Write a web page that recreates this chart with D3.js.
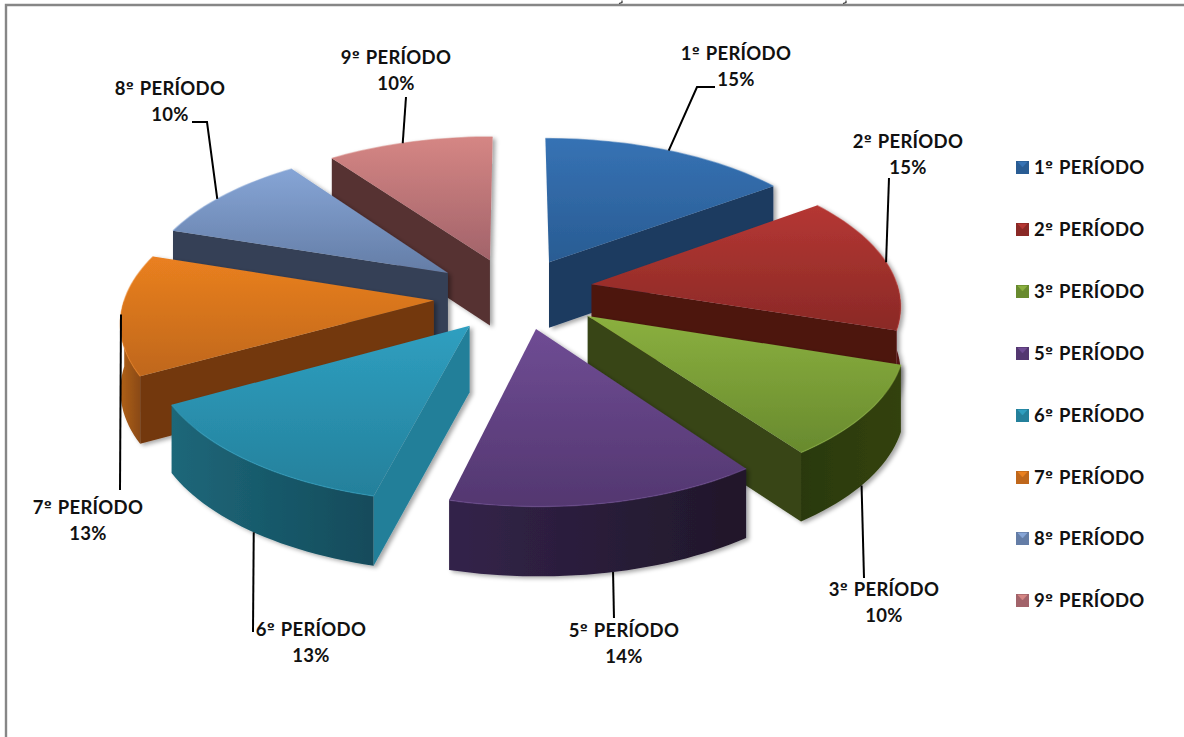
<!DOCTYPE html>
<html lang="pt">
<head>
<meta charset="utf-8">
<script src="https://cdn.jsdelivr.net/npm/d3@7/dist/d3.min.js"></script>
<style>
  html, body { margin: 0; background: #fff; }
  svg { display: block; }
  text { font-family: Lato, "Open Sans", sans-serif; font-weight: 700; fill: #111; letter-spacing: 0.3px; }
  tspan.ord { font-family: "DejaVu Sans", sans-serif; font-size: 0.78em; letter-spacing: 1px; baseline-shift: 3px; }
</style>
</head>
<body>
<svg id="chart" width="1184" height="737"></svg>
<script>
// Chart data
const categories = ["1º PERÍODO", "2º PERÍODO", "3º PERÍODO", "5º PERÍODO", "6º PERÍODO", "7º PERÍODO", "8º PERÍODO", "9º PERÍODO"];
const shares = [15, 15, 10, 14, 13, 13, 10, 10];

// Slice paint: top gradient (light, dark), radial wall, rim wall gradient (left, right)
const topLight = ["#3672b4", "#b53733", "#8bb03f", "#6f4c94", "#2f9fc0", "#ea8020", "#86a5d6", "#d58684"];
const topDark = ["#295c93", "#8a2926", "#688a2e", "#533770", "#24809b", "#bf671b", "#647da6", "#a2636a"];
const wallColor = ["#1b3a61", "#4e1211", "#374516", "#2b1d3d", "#237f99", "#73390e", "#344057", "#573333"];
const rimLeft = ["#1b3a61", "#5a1614", "#2a390f", "#33234a", "#1d6779", "#b0601a", "#344057", "#573333"];
const rimRight = ["#1b3a61", "#4a1210", "#33420f", "#201729", "#134b5b", "#8a4a12", "#344057", "#573333"];

// Leader routes and text anchors for each data label
const labelAnchors = [[736, 54], [908, 142], [884, 590], [624, 631], [311, 630], [88, 508], [170, 89], [396, 58]];
const leaderRoutes = [[[697, 87], [715, 87]], [[889, 178]], [[864, 578]], [[614, 618]], [[253, 632]], [[120, 490]], [[207, 122], [192, 122]], [[406, 97]]];
const leaderOnFloor = [false, false, true, true, true, false, false, false];
const leaderAngleShift = [0, 0, 2, -1, -1, 0, -2, -1.5];
const legendRows = [167, 229, 291, 353, 415, 477, 538, 600];

// Scene geometry for the tilted, exploded pie
const scene = { cx: 515, cy: 294, radius: 308, explode: 77, tilt: 0.475, camera: 2500, height: 66 };
const sliceNudge = [[0, 0], [1, -4], [9, 0], [6, -2], [3, 2], [-4, 3], [-6, 0], [-2, 0]];

const svg = d3.select("#chart");
const defs = svg.append("defs");

function project(x, y, z) {
  const s = scene.camera / (scene.camera - y);
  return [scene.cx + x * s, scene.cy + y * scene.tilt * s - z * Math.pow(s, 0.35)];
}

const arcs = d3.pie().value(d => d).sort(null)(shares);
const line = d3.line();

// Soft cast shadow beneath each slice
const shadow = defs.append("filter").attr("id", "cast").attr("x", "-10%").attr("y", "-10%").attr("width", "125%").attr("height", "125%");
shadow.append("feDropShadow").attr("dx", 3).attr("dy", 2).attr("stdDeviation", 2.2).attr("flood-color", "#000").attr("flood-opacity", 0.35);

arcs.forEach((a, i) => {
  const top = defs.append("linearGradient").attr("id", `top${i}`).attr("x1", 0).attr("y1", 0).attr("x2", 0).attr("y2", 1);
  top.append("stop").attr("offset", 0).attr("stop-color", topLight[i]);
  top.append("stop").attr("offset", 1).attr("stop-color", topDark[i]);
  const rim = defs.append("linearGradient").attr("id", `rim${i}`).attr("x1", 0).attr("y1", 0).attr("x2", 1).attr("y2", 0);
  rim.append("stop").attr("offset", 0).attr("stop-color", rimLeft[i]);
  rim.append("stop").attr("offset", 1).attr("stop-color", rimRight[i]);
});

// Helpers working in the pie's ground plane
function apexOf(a, i) {
  const mid = (a.startAngle + a.endAngle) / 2;
  return [Math.sin(mid) * scene.explode + sliceNudge[i][0], -Math.cos(mid) * scene.explode + sliceNudge[i][1] / scene.tilt];
}
function rimPoint(a, i, angle) {
  const [ax, ay] = apexOf(a, i);
  return [ax + Math.sin(angle) * scene.radius, ay - Math.cos(angle) * scene.radius];
}
function rimSamples(a0, a1) {
  const n = Math.max(2, Math.ceil((a1 - a0) / 0.03));
  return d3.range(n + 1).map(k => a0 + (a1 - a0) * k / n);
}

// Painter's order: far slices first, nearest slice last
const order = d3.range(arcs.length).sort((p, q) => apexOf(arcs[p], p)[1] - apexOf(arcs[q], q)[1]);
const pieLayer = svg.append("g");

order.forEach(i => {
  const a = arcs[i];
  const g = pieLayer.append("g").attr("filter", "url(#cast)");
  const [ax, ay] = apexOf(a, i);

  // Outer rim wall: only the part that faces the viewer
  const from = Math.max(a.startAngle, Math.PI / 2);
  const to = Math.min(a.endAngle, Math.PI * 1.5);
  if (to > from) {
    const angles = rimSamples(from, to);
    const upper = angles.map(t => project(...rimPoint(a, i, t), 0));
    const lower = angles.map(t => project(...rimPoint(a, i, t), -scene.height)).reverse();
    g.append("path").attr("d", line(upper.concat(lower)) + "Z").attr("fill", `url(#rim${i})`);
  }

  // Radial walls that face the viewer
  [[a.startAngle, -1], [a.endAngle, 1]].forEach(([t, side]) => {
    if (side * Math.sin(t) <= 0.02) return;
    const p = rimPoint(a, i, t);
    const quad = [project(ax, ay, 0), project(...p, 0), project(...p, -scene.height), project(ax, ay, -scene.height)];
    g.append("path").attr("d", line(quad) + "Z").attr("fill", wallColor[i]);
  });

  // Top face
  const rimTop = rimSamples(a.startAngle, a.endAngle).map(t => project(...rimPoint(a, i, t), 0));
  g.append("path").attr("d", line([project(ax, ay, 0), ...rimTop]) + "Z").attr("fill", `url(#top${i})`);

  // Bevel highlight along the rim of the top face
  g.append("path").attr("d", line(rimTop)).attr("fill", "none").attr("stroke", topLight[i]).attr("stroke-width", 1.4).attr("stroke-opacity", 0.55);
});

// Writes a period name with its ordinal mark in a face that draws the underlined form
function periodText(sel, name) {
  const [num, rest] = name.split("º");
  sel.append("tspan").text(num);
  sel.append("tspan").attr("class", "ord").text("º");
  sel.append("tspan").text(rest);
}

// Data labels with leader lines
const labels = svg.append("g");
arcs.forEach((a, i) => {
  const mid = (a.startAngle + a.endAngle) / 2 + leaderAngleShift[i] * Math.PI / 180;
  const start = project(...rimPoint(a, i, mid), leaderOnFloor[i] ? -scene.height : 0);
  labels.append("path").attr("d", line([start, ...leaderRoutes[i]]))
    .attr("fill", "none").attr("stroke", "#000").attr("stroke-width", 2);
  const [lx, ly] = labelAnchors[i];
  labels.append("text").attr("x", lx).attr("y", ly).attr("dy", "0.35em").attr("text-anchor", "middle")
    .attr("font-size", 18.5).call(periodText, categories[i]);
  labels.append("text").attr("x", lx).attr("y", ly + 26).attr("dy", "0.35em").attr("text-anchor", "middle")
    .attr("font-size", 18.5).text(d3.format(".0f")(a.value) + "%");
});

// Legend with bevelled swatches
const legend = svg.append("g");
categories.forEach((c, i) => {
  const y = legendRows[i];
  const row = legend.append("g").attr("transform", `translate(1016,${y})`);
  row.append("rect").attr("x", 0).attr("y", -6).attr("width", 13).attr("height", 13).attr("fill", topDark[i]);
  row.append("path").attr("d", "M2,-5H11L6.5,0Z").attr("fill", topLight[i]).attr("stroke", topLight[i]).attr("stroke-width", 0.6);
  row.append("text").attr("x", 18).attr("y", 1).attr("dy", "0.35em").attr("font-size", 18.5).call(periodText, c);
});

// Window frame and the clipped title descenders above it
svg.append("path").attr("d", "M6,737V5H1184").attr("fill", "none").attr("stroke", "#868686").attr("stroke-width", 2.4);
svg.append("path").attr("d", "M622,0.5V2.5L619,3.5M846,0.5V2.5L843,3.5").attr("fill", "none").attr("stroke", "#333").attr("stroke-width", 1.2);
</script>
</body>
</html>
